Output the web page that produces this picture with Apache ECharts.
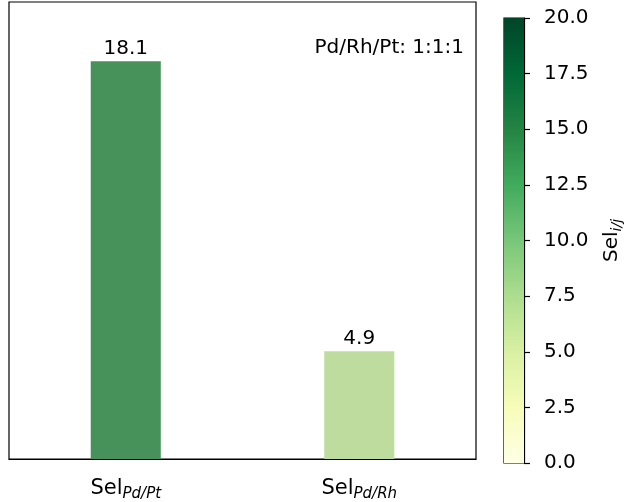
<!DOCTYPE html>
<html>
<head>
<meta charset="utf-8">
<script src="https://cdn.jsdelivr.net/npm/echarts@6/dist/echarts.min.js"></script>
<style>
  html, body { margin: 0; padding: 0; background: #fff; }
  #chart { width: 625px; height: 502px; }
</style>
</head>
<body>
<div id="chart"></div>
<script>
// data
const categories = ["Pd/Pt", "Pd/Rh"];
const selValues = [18.1, 4.9];
const barColors = ["#46925a", "#bfdc9f"];
const cbarMin = 0;
const cbarMax = 20;
// YlGn colormap stops
const ylgn = ["#ffffe5", "#f7fcb9", "#d9f0a3", "#addd8e", "#78c679", "#41ab5d", "#238443", "#006837", "#004529"];

const font = "DejaVu Sans";
const chart = echarts.init(document.getElementById("chart"));

const option = {
  animation: false,
  textStyle: { fontFamily: font },
  title: {
    text: "Pd/Rh/Pt: 1:1:1",
    right: 156,
    top: 33,
    textStyle: { fontFamily: font, fontSize: 20, fontWeight: "normal", color: "#000" },
  },
  grid: [
    { left: 9, right: 149, top: 2, bottom: 41, show: true, borderColor: "#000", borderWidth: 1.2 },
    { left: 504, width: 21, top: 18, bottom: 39, show: true, borderColor: "#000", borderWidth: 1.2 },
  ],
  xAxis: [
    {
      type: "category",
      gridIndex: 0,
      data: categories,
      axisLine: { lineStyle: { color: "#000", width: 1.2 } },
      axisTick: { alignWithLabel: true, length: 7, lineStyle: { color: "#000", width: 1.2 } },
      axisLabel: {
        margin: 17,
        formatter: (v) => "{a|Sel}{b|" + v + "}",
        rich: {
          a: { fontFamily: font, fontSize: 21, color: "#000" },
          b: { fontFamily: font, fontSize: 15, fontStyle: "italic", color: "#000", padding: [11, 0, 0, 0] },
        },
      },
    },
    { type: "category", gridIndex: 1, data: [""], show: false },
  ],
  yAxis: [
    { type: "value", gridIndex: 0, min: 0, max: 20.8, show: false },
    {
      type: "value",
      gridIndex: 1,
      position: "right",
      min: cbarMin,
      max: cbarMax,
      interval: 2.5,
      splitLine: { show: false },
      axisLine: { show: true, lineStyle: { color: "#000", width: 1.2 } },
      axisTick: { show: true, length: 6, lineStyle: { color: "#000", width: 1.2 } },
      axisLabel: { margin: 20, fontFamily: font, fontSize: 20, color: "#000", formatter: (v) => v.toFixed(1) },
      name: "{a|Sel}{b|i/j}",
      nameLocation: "middle",
      nameGap: 76,
      nameRotate: 90,
      nameTextStyle: {
        rich: {
          a: { fontFamily: font, fontSize: 20, color: "#000" },
          b: { fontFamily: font, fontSize: 14, fontStyle: "italic", color: "#000", padding: [10, 0, 0, 0] },
        },
      },
    },
  ],
  series: [
    {
      type: "bar",
      xAxisIndex: 0,
      yAxisIndex: 0,
      barWidth: "30%",
      data: selValues.map((v, i) => ({ value: v, itemStyle: { color: barColors[i] } })),
      label: {
        show: true,
        position: "top",
        distance: 3,
        fontFamily: font,
        fontSize: 20,
        color: "#000",
        formatter: (p) => p.value.toFixed(1),
      },
    },
    {
      type: "bar",
      xAxisIndex: 1,
      yAxisIndex: 1,
      barWidth: "100%",
      silent: true,
      data: [cbarMax],
      itemStyle: {
        color: new echarts.graphic.LinearGradient(0, 1, 0, 0,
          ylgn.map((c, i) => ({ offset: i / (ylgn.length - 1), color: c }))),
      },
    },
  ],
};

chart.setOption(option);
</script>
</body>
</html>
